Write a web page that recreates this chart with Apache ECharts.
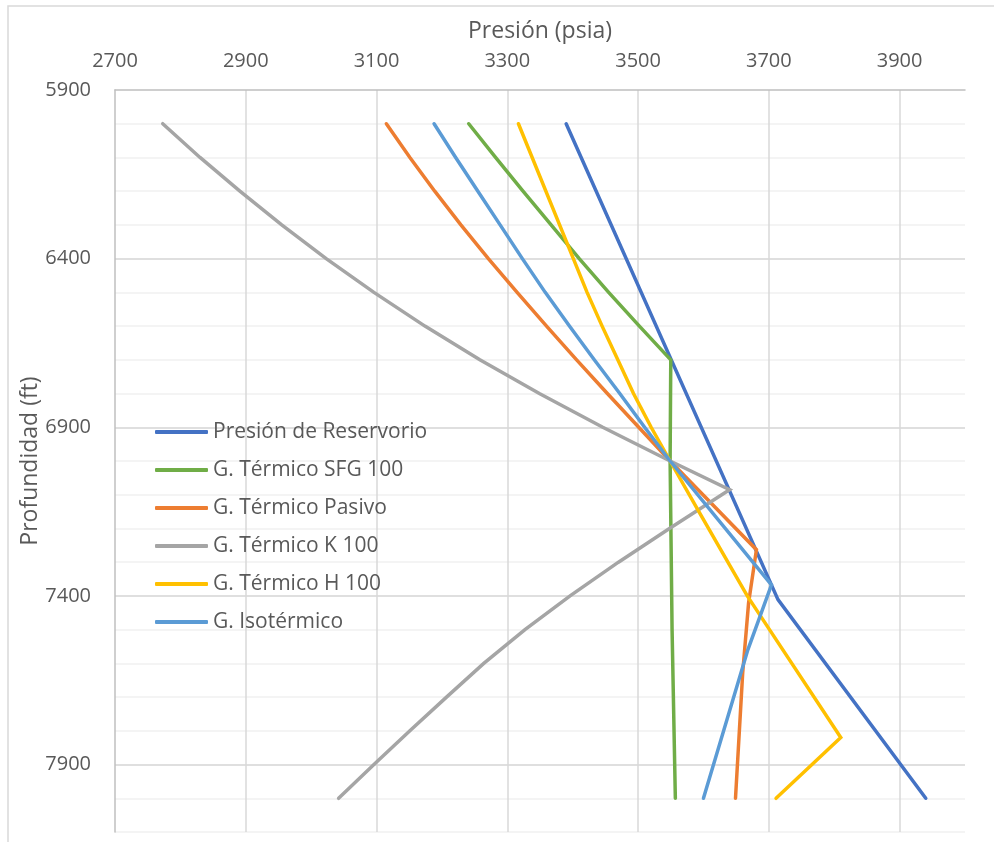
<!DOCTYPE html>
<html>
<head>
<meta charset="utf-8">
<script src="https://cdn.jsdelivr.net/npm/echarts@6/dist/echarts.min.js"></script>
<style>
html,body{margin:0;padding:0;background:#fff;}
#chart{width:994px;height:842px;}
</style>
</head>
<body>
<div id="chart"></div>
<script>
// ---- Data (x = Presión psia, y = Profundidad ft) ----
const seriesNames = ['Presión de Reservorio','G. Térmico SFG 100','G. Térmico Pasivo','G. Térmico K 100','G. Térmico H 100','G. Isotérmico'];
const seriesColors = ['#4472C4','#70AD47','#ED7D31','#A5A5A5','#FFC000','#5B9BD5'];

const depthReservorio = [6000, 7411, 8000];
const presReservorio  = [3390, 3714, 3940];

const depthSFG = [6000, 6100, 6200, 6300, 6400, 6500, 6600, 6700, 7000, 7500, 8000];
const presSFG  = [3241, 3282, 3324, 3367, 3410, 3455, 3502, 3550, 3549, 3552, 3557];

const depthPasivo = [6000, 6100, 6200, 6300, 6400, 6500, 6600, 6700, 6800, 6900, 7000, 7263, 7421, 7628, 8000];
const presPasivo  = [3115, 3151, 3189, 3229, 3271, 3315, 3360, 3406, 3453, 3501, 3549, 3681, 3669, 3660, 3649];

const depthK100 = [6000, 6100, 6200, 6300, 6400, 6500, 6600, 6700, 6800, 6900, 7000, 7085, 7100, 7200, 7300, 7400, 7500, 7600, 7700, 7800, 7900, 8000];
const presK100  = [2773, 2830, 2891, 2955, 3023, 3096, 3174, 3258, 3349, 3446, 3549, 3640, 3628, 3548, 3470, 3396, 3327, 3264, 3207, 3151, 3096, 3042];

const depthH100 = [6000, 6500, 6600, 6700, 6800, 6900, 7000, 7150, 7400, 7500, 7820, 8000];
const presH100  = [3317, 3422, 3445, 3469, 3493, 3520, 3549, 3593, 3667, 3701, 3810, 3711];

const depthIso = [6000, 6100, 6200, 6300, 6400, 6500, 6600, 6700, 6800, 6900, 7000, 7367, 7559, 8000];
const presIso  = [3188, 3221, 3255, 3289, 3323, 3358, 3395, 3433, 3472, 3510, 3549, 3704, 3668, 3600];

const xTickLabels = [2700, 2900, 3100, 3300, 3500, 3700, 3900];
const yTickLabels = [5900, 6400, 6900, 7400, 7900];

const xTitle = 'Presión (psia)';
const yTitle = 'Profundidad (ft)';

const allDepths = [depthReservorio, depthSFG, depthPasivo, depthK100, depthH100, depthIso];
const allPres = [presReservorio, presSFG, presPasivo, presK100, presH100, presIso];

function zip(p, d){ return p.map((v,i)=>[v, d[i]]); }

const FONT = '"Open Sans", "Noto Sans", sans-serif';
const TXT = '#595959';

const chart = echarts.init(document.getElementById('chart'), null, {renderer:'canvas'});

const option = {
  backgroundColor: '#ffffff',
  animation: false,
  textStyle: { fontFamily: FONT, color: TXT },
  graphic: [{
    type: 'rect',
    shape: { x: 8, y: 6, width: 1100, height: 1000 },
    style: { fill: 'none', stroke: '#d9d9d9', lineWidth: 1.5 },
    silent: true, z: -10
  }],
  grid: { left: 115, top: 90, right: 29, bottom: 10, containLabel: false },
  legend: {
    orient: 'vertical',
    left: 155, top: 420, padding: 0,
    itemWidth: 53, itemHeight: 4, itemGap: 14,
    icon: 'roundRect',
    textStyle: { fontFamily: FONT, fontSize: 21, color: TXT, lineHeight: 24 },
    data: seriesNames
  },
  xAxis: {
    type: 'value', position: 'top',
    min: 2700, max: 4000, interval: 200,
    name: xTitle, nameLocation: 'middle', nameGap: 47, nameMoveOverlap: false,
    nameTextStyle: { fontFamily: FONT, fontSize: 23, color: TXT },
    axisLine: { show: true, onZero: false, lineStyle: { color: '#bfbfbf', width: 1.5 } },
    axisTick: { show: false },
    axisLabel: {
      fontFamily: FONT, fontSize: 20, color: TXT, margin: 19,
      formatter: v => xTickLabels.includes(v) ? String(v) : ''
    },
    splitLine: { show: true, showMinLine: false, showMaxLine: false, lineStyle: { color: '#d9d9d9', width: 1.5 } }
  },
  yAxis: [
    {
      type: 'value', inverse: true, position: 'left',
      min: 5900, max: 8100, interval: 100, z: 0,
      axisLine: { show: false },
      axisTick: { show: false },
      axisLabel: { show: false },
      splitLine: { show: true, showMinLine: false, lineStyle: { color: '#f0f0f0', width: 1.5 } }
    },
    {
      type: 'value', inverse: true, position: 'left',
      min: 5900, max: 8100, interval: 500, z: 1,
      name: yTitle, nameLocation: 'middle', nameGap: 73, nameRotate: 90, nameMoveOverlap: false,
      nameTextStyle: { fontFamily: FONT, fontSize: 23, color: TXT },
      axisLine: { show: true, onZero: false, lineStyle: { color: '#bfbfbf', width: 1.5 } },
      axisTick: { show: false },
      axisLabel: {
        fontFamily: FONT, fontSize: 20, color: TXT, margin: 24,
        formatter: v => yTickLabels.includes(v) ? String(v) : ''
      },
      splitLine: { show: true, showMinLine: false, showMaxLine: false, lineStyle: { color: '#d9d9d9', width: 1.5 } }
    }
  ],
  series: seriesNames.map((name, i) => ({
    name: name,
    type: 'line',
    yAxisIndex: 1,
    data: zip(allPres[i], allDepths[i]),
    showSymbol: false,
    symbol: 'none',
    color: seriesColors[i],
    lineStyle: { color: seriesColors[i], width: 3.5, cap: 'round', join: 'miter' },
    z: 2 + i
  }))
};
chart.setOption(option);
</script>
</body>
</html>
